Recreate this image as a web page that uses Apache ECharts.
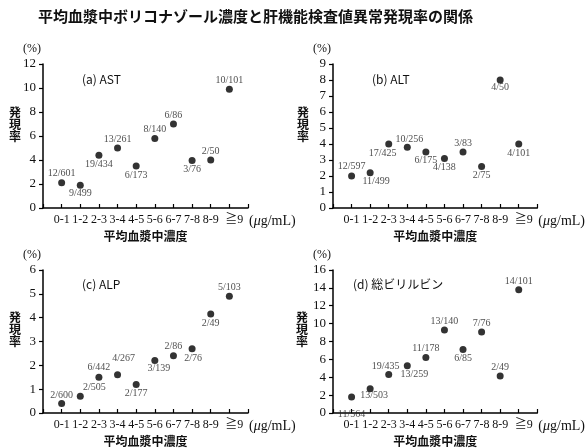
<!DOCTYPE html>
<html>
<head>
<meta charset="utf-8">
<script src="https://cdn.jsdelivr.net/npm/echarts@6/dist/echarts.min.js"></script>
<style>
  html, body { margin: 0; padding: 0; background: #fff; }
  #chart { width: 586px; height: 448px; }
</style>
</head>
<body>
<div id="chart"></div>
<script>
// 濃度区分
const categories = ['0-1', '1-2', '2-3', '3-4', '4-5', '5-6', '6-7', '7-8', '8-9', '≧9'];

// (a) AST
const astRate = [2.1, 1.9, 4.4, 5.0, 3.5, 5.8, 7.0, 3.95, 4.0, 9.9];
const astCases = ['12/601', '9/499', '19/434', '13/261', '6/173', '8/140', '6/86', '3/76', '2/50', '10/101'];
// (b) ALT
const altRate = [2.0, 2.2, 4.0, 3.8, 3.5, 3.1, 3.5, 2.6, 8.0, 4.0];
const altCases = ['12/597', '11/499', '17/425', '10/256', '6/175', '4/138', '3/83', '2/75', '4/50', '4/101'];
// (c) ALP
const alpRate = [0.4, 0.7, 1.5, 1.6, 1.2, 2.2, 2.4, 2.7, 4.15, 4.9];
const alpCases = ['2/600', '2/505', '6/442', '4/267', '2/177', '3/139', '2/86', '2/76', '2/49', '5/103'];
// (d) 総ビリルビン
const tbilRate = [1.8, 2.7, 4.3, 5.3, 6.2, 9.3, 7.1, 9.05, 4.15, 13.8];
const tbilCases = ['11/564', '13/503', '19/435', '13/259', '11/178', '13/140', '6/85', '7/76', '2/49', '14/101'];

const panelNames = ['(a) AST', '(b) ALT', '(c) ALP', '(d) 総ビリルビン'];
const yMax = [12, 9, 6, 16];
const yStep = [2, 1, 1, 2];

// ラベル位置（点からのずれ px）
const labelOffsets = [
  [[0, -9], [0, 8], [0, 9], [0, -9], [0, 9], [0, -9], [0, -9], [0, 9], [0, -9], [0, -9]],
  [[0, -10], [6, 9], [-6, 9], [2, -8], [0, 8], [0, 9], [0, -9], [0, 9], [0, 7], [0, 9]],
  [[0, -8], [14, -9], [0, -10], [6, -16], [0, 9], [4, 8], [0, -9], [1, 10], [0, 9], [0, -9]],
  [[0, 17], [4, 7], [-3, -8], [7, 9], [0, -9], [0, -9], [0, 9], [0, -9], [0, -9], [0, -8]]
];

const rates = [astRate, altRate, alpRate, tbilRate];
const cases = [astCases, altCases, alpCases, tbilCases];

const serif = 'Liberation Serif, "Noto Sans CJK JP", serif';
const gothic = '"Noto Sans CJK JP", sans-serif';

const grids = [
  { left: 43, top: 64, width: 205, height: 144 },
  { left: 333, top: 64, width: 205, height: 144 },
  { left: 43, top: 270, width: 205, height: 143 },
  { left: 333, top: 270, width: 205, height: 143 }
];
const panelLabelPos = [[82, 73], [372, 73], [82, 278], [353, 278]];
const yNameGap = [22, 24, 22, 25];

let myChart = echarts.init(document.getElementById('chart'));

let xAxes = [];
let yAxes = [];
let series = [];
let titles = [{
  text: '平均血漿中ボリコナゾール濃度と肝機能検査値異常発現率の関係',
  left: 38,
  top: 9,
  padding: 0,
  textStyle: { fontFamily: gothic, fontSize: 15, fontWeight: 'bold', color: '#111' }
}];

for (let i = 0; i < 4; i++) {
  titles.push({
    text: panelNames[i],
    left: panelLabelPos[i][0],
    top: panelLabelPos[i][1],
    padding: 0,
    textStyle: { fontFamily: gothic, fontSize: 12, fontWeight: 'normal', color: '#111' }
  });

  // メインのx軸（目盛り・区分ラベル）
  xAxes.push({
    gridIndex: i,
    type: 'value',
    position: 'bottom',
    min: 0,
    max: 11,
    interval: 1,
    name: '({i|μ}g/mL)',
    nameLocation: 'end',
    nameGap: 1,
    nameTextStyle: {
      fontFamily: serif,
      fontSize: 14,
      color: '#111',
      padding: [26, 0, 0, 0],
      rich: { i: { fontFamily: serif, fontSize: 14, fontStyle: 'italic', color: '#111' } }
    },
    axisLine: { lineStyle: { color: '#000', width: 1.5 } },
    axisTick: { inside: true, length: 4, lineStyle: { color: '#000', width: 1.2 } },
    splitLine: { show: false },
    axisLabel: {
      margin: 6,
      fontFamily: serif,
      fontSize: 12,
      color: '#111',
      formatter: function (v) {
        if (v < 1 || v > 10) return '';
        if (v === 10) return '{g|' + categories[9] + '}';
        return categories[v - 1];
      },
      rich: { g: { fontFamily: serif, fontSize: 12, color: '#111', padding: [0, 0, 0, 10] } }
    }
  });

  yAxes.push({
    gridIndex: i,
    type: 'value',
    position: 'left',
    min: 0,
    max: yMax[i],
    interval: yStep[i],
    name: '(%)',
    nameLocation: 'end',
    nameGap: 9,
    nameTextStyle: { fontFamily: serif, fontSize: 12, color: '#111', align: 'right', padding: [0, 2, 0, 0] },
    axisLine: { show: true, lineStyle: { color: '#000', width: 1.5 } },
    axisTick: { show: true, length: 4, lineStyle: { color: '#000', width: 1.2 } },
    splitLine: { show: false },
    axisLabel: { margin: 7, fontFamily: serif, fontSize: 13, color: '#111' }
  });

  series.push({
    type: 'scatter',
    xAxisIndex: i,
    yAxisIndex: i,
    symbolSize: 7,
    itemStyle: { color: '#000' },
    label: {
      show: true,
      position: 'inside',
      fontFamily: serif,
      fontSize: 10,
      color: '#222',
      formatter: function (p) { return cases[i][p.dataIndex]; }
    },
    data: rates[i].map(function (v, k) {
      return { value: [k + 1, v], label: { offset: labelOffsets[i][k] } };
    })
  });
}

// 軸タイトル用の補助軸
for (let i = 0; i < 4; i++) {
  xAxes.push({
    gridIndex: i,
    type: 'value',
    position: 'bottom',
    offset: 0,
    min: 0,
    max: 11,
    name: '平均血漿中濃度',
    nameLocation: 'middle',
    nameGap: 22,
    nameTextStyle: { fontFamily: gothic, fontSize: 12, fontWeight: 'bold', color: '#111' },
    axisLine: { show: false },
    axisTick: { show: false },
    axisLabel: { show: false },
    splitLine: { show: false }
  });
  yAxes.push({
    gridIndex: i,
    type: 'value',
    position: 'left',
    offset: 0,
    min: 0,
    max: 1,
    // 下に空行を足して文字列を上へずらす
    name: '発\n現\n率\n \n ',
    nameLocation: 'middle',
    nameRotate: 0,
    nameGap: yNameGap[i],
    nameTextStyle: {
      fontFamily: gothic,
      fontSize: 12,
      fontWeight: 'bold',
      lineHeight: 12,
      color: '#111'
    },
    axisLine: { show: false },
    axisTick: { show: false },
    axisLabel: { show: false },
    splitLine: { show: false }
  });
}

let option = {
  backgroundColor: '#fff',
  animation: false,
  title: titles,
  grid: grids,
  xAxis: xAxes,
  yAxis: yAxes,
  series: series
};
myChart.setOption(option, true);
window.addEventListener('resize', () => {
  myChart.resize();
});
</script>
</body>
</html>
